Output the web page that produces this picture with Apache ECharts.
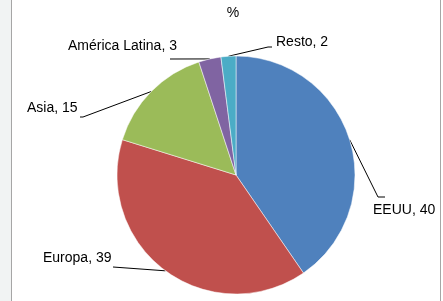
<!DOCTYPE html>
<html>
<head>
<meta charset="utf-8">
<script src="https://cdn.jsdelivr.net/npm/echarts@6/dist/echarts.min.js"></script>
<style>
  html, body { margin: 0; padding: 0; background: #fff; }
  #chart { width: 443px; height: 301px; }
</style>
</head>
<body>
<div id="chart"></div>
<script>
// Chart data
const regions = ['EEUU', 'Europa', 'Asia', 'América Latina', 'Resto'];
const shares = [40, 39, 15, 3, 2];
const sliceColors = ['#4F81BD', '#C0504D', '#9BBB59', '#8064A2', '#4BACC6'];

// Where each label sits and how its leader line bends (same order as regions)
const labelSpots = [
    { x: 373, y: 210, bend: [[378, 197], [385, 197]] },
    { x: 43,  y: 258, bend: [[113, 267]] },
    { x: 27,  y: 108, bend: [[83, 117], [80, 117]] },
    { x: 68,  y: 46,  bend: [[170, 59]] },
    { x: 276, y: 42,  bend: [[268, 47], [272, 47]] }
];

(function() {
    const myChart = echarts.init(document.getElementById('chart'), null, { renderer: 'canvas' });

    const option = {
        animation: false,
        backgroundColor: '#ffffff',
        title: {
            text: '%',
            left: 228,
            top: 1,
            textAlign: 'center',
            textStyle: { fontFamily: 'Liberation Sans', fontSize: 14, fontWeight: 'normal', color: '#000' }
        },
        graphic: [
            // grey strip + frame lines at the sides
            { type: 'rect', shape: { x: 0, y: 0, width: 11, height: 301 }, style: { fill: '#f1f3f3' } },
            { type: 'line', shape: { x1: 11.5, y1: 0, x2: 11.5, y2: 301 }, style: { stroke: '#a6a6a6', lineWidth: 1 } },
            { type: 'line', shape: { x1: 440.5, y1: 0, x2: 440.5, y2: 301 }, style: { stroke: '#a6a6a6', lineWidth: 1 } }
        ],
        series: [{
            type: 'pie',
            center: [236, 175],
            radius: 119,
            startAngle: 90,
            clockwise: true,
            data: regions.map((name, i) => ({
                name: name,
                value: shares[i],
                itemStyle: { color: sliceColors[i] }
            })),
            itemStyle: { borderColor: '#ffffff', borderWidth: 0.5 },
            label: {
                formatter: '{b}, {c}',
                fontFamily: 'Liberation Sans',
                fontSize: 14,
                color: '#000',
                overflow: 'none'
            },
            labelLine: {
                show: true,
                lineStyle: { color: '#000', width: 1 }
            },
            labelLayout: function(params) {
                const spot = labelSpots[params.dataIndex];
                const start = params.labelLinePoints ? params.labelLinePoints[0] : null;
                const pts = start ? [start].concat(spot.bend) : spot.bend;
                return {
                    x: spot.x,
                    y: spot.y,
                    width: 130,
                    align: 'left',
                    verticalAlign: 'middle',
                    labelLinePoints: pts
                };
            },
            emphasis: { disabled: true }
        }]
    };

    myChart.setOption(option);
})();
</script>
</body>
</html>
